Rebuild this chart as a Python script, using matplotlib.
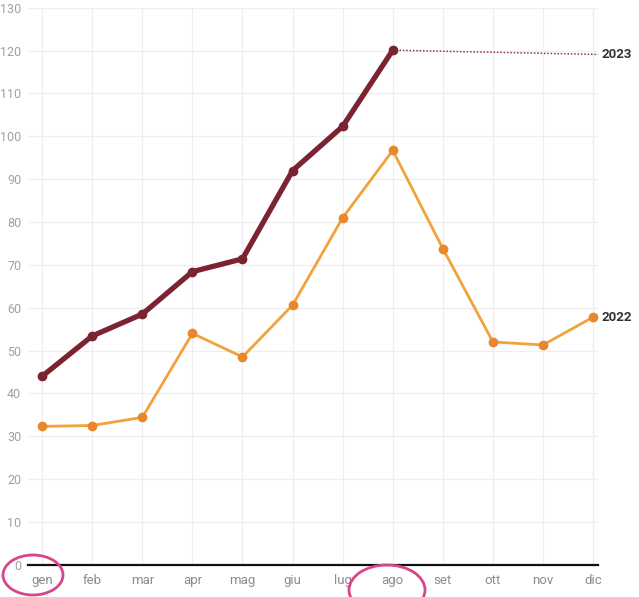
import numpy as np
import matplotlib.pyplot as plt
from matplotlib.patches import Ellipse

# Dati
mesi = ["gen", "feb", "mar", "apr", "mag", "giu", "lug", "ago", "set", "ott", "nov", "dic"]
valori_2022 = [32.3, 32.5, 34.4, 54.0, 48.5, 60.6, 81.0, 96.7, 73.8, 52.0, 51.3, 57.8]
valori_2023 = [44.0, 53.4, 58.5, 68.4, 71.4, 92.0, 102.3, 120.1]
yticks = list(range(0, 140, 10))

plt.rcParams['font.family'] = ['Roboto', 'DejaVu Sans']

# figura e assi
fig = plt.figure(figsize=(6.39, 5.97), dpi=100)
ax = fig.add_axes([0.044, 0.054, 0.892, 0.933])

x = np.arange(len(mesi))

# 2022
ax.plot(x, valori_2022, color="#f2a23a", lw=2, zorder=3)
ax.plot(x, valori_2022, 'o', color="#e8872c", ms=6, zorder=4)

# 2023
x23 = x[:len(valori_2023)]
ax.plot(x23, valori_2023, color="#7b2331", lw=3.8, zorder=5,
        marker='o', ms=6, mfc="#7b2331", mec="#7b2331")
ax.plot([x23[-1], x[-1] + 0.1], [valori_2023[-1], valori_2023[-1] - 1], ls=(0, (1, 1.2)),
        color="#8a3a45", lw=1.1, zorder=4, clip_on=False)

# etichette delle serie
ax.text(x[-1] + 0.17, valori_2023[-1] - 1, "2023", fontsize=9.5, color="#333333",
        fontweight="bold", va="center", ha="left", clip_on=False)
ax.text(x[-1] + 0.17, valori_2022[-1], "2022", fontsize=9.5, color="#333333",
        fontweight="bold", va="center", ha="left", clip_on=False)

# formato
ax.set_xlim(-0.28, 11.1)
ax.set_ylim(0, 130)
ax.set_xticks(x)
ax.set_xticklabels(mesi)
ax.set_yticks(yticks)
ax.grid(True, color="#eeeef2", lw=0.9)
ax.set_axisbelow(True)
for s in ["top", "right", "left"]:
    ax.spines[s].set_visible(False)
ax.spines["bottom"].set_color("#111111")
ax.spines["bottom"].set_linewidth(1.6)
ax.tick_params(axis="y", length=0, labelsize=9, labelcolor="#a0a0a0", pad=5)
ax.tick_params(axis="x", length=0, labelsize=9.5, labelcolor="#8c8c8c", pad=7)

# cerchi a mano
fig.patches.append(Ellipse((33 / 639, 1 - 575 / 597), 60 / 639, 40 / 597, fill=False,
                           ec="#d8458a", lw=2, transform=fig.transFigure))
fig.patches.append(Ellipse((387 / 639, 1 - 590 / 597), 76 / 639, 50 / 597, fill=False,
                           ec="#d8458a", lw=2, transform=fig.transFigure))

plt.savefig("out.png")
